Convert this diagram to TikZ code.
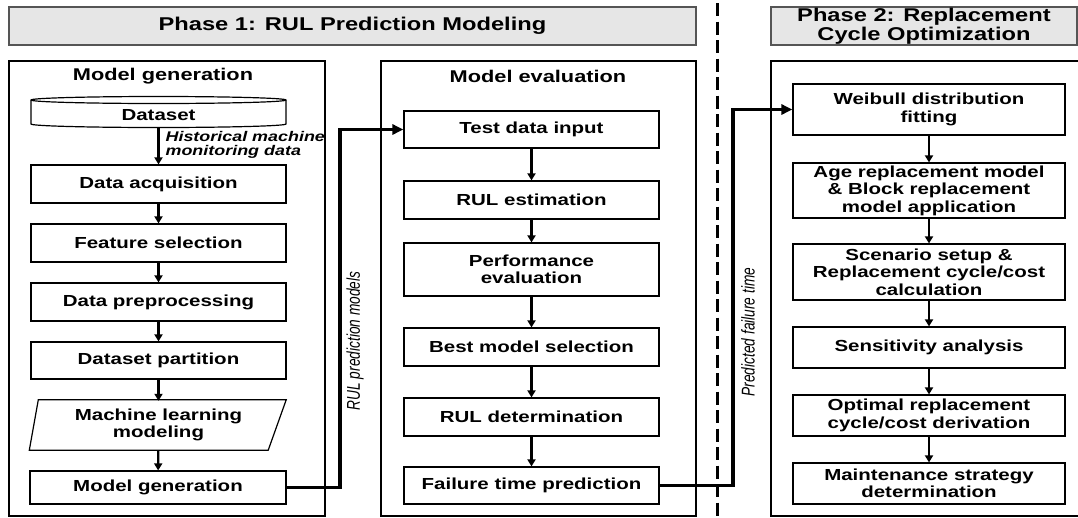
\documentclass[tikz,border=0pt]{standalone}
\usepackage{fontspec}
\setmainfont[FakeStretch=1.28]{Liberation Sans}
\newfontfamily\narrowfont[FakeStretch=0.74]{Liberation Sans}
\usetikzlibrary{arrows.meta,calc}
\definecolor{hdrfill}{HTML}{E6E6E6}
\definecolor{hdrline}{HTML}{555555}
\tikzset{
  stepbox/.style={draw, line width=1.2pt, fill=white, align=center, inner sep=0pt,
    font=\bfseries\fontsize{16}{17.5}\selectfont},
  plainbox/.style={align=center, inner sep=0pt, font=\bfseries\fontsize{16}{17.5}\selectfont},
  panel/.style={draw, line width=1.2pt},
  header/.style={draw=hdrline, line width=1.2pt, fill=hdrfill, align=center, inner sep=0pt,
    font=\bfseries\fontsize{18.5}{19.5}\selectfont},
  ptitle/.style={inner sep=0pt, font=\bfseries\fontsize{17}{18}\selectfont},
  arr/.style={line width=2.2pt, -{Triangle[length=7pt,width=8pt]}},
  bigarr/.style={line width=3.5pt, -{Triangle[length=11pt,width=10pt]}},
  sidelabel/.style={inner sep=0pt, rotate=90, font=\narrowfont\itshape\fontsize{18.5}{19}\selectfont},
  dlabel/.style={inner sep=0pt, align=left, font=\bfseries\itshape\fontsize{14}{14.5}\selectfont}
}
\begin{document}
\begin{tikzpicture}[x=1pt,y=-1pt]
\useasboundingbox (0,0) rectangle (1078,517);
% headers
\node[header, minimum width=687pt, minimum height=38pt] (h1) at (352.5,26) {Phase 1: RUL Prediction Modeling};
\node[header, minimum width=306pt, minimum height=38pt] (h2) at (924,26) {Phase 2: Replacement\\Cycle Optimization};
% dashed separator
\coordinate (dtop) at (717,3);
\coordinate (dbot) at (717,517);
\draw[line width=3pt, dash pattern=on 13pt off 5.5pt] (dtop) -- (dbot);
% panels
\node[panel, minimum width=316pt, minimum height=455pt] (pgen) at (167,288.5) {};
\node[panel, minimum width=315pt, minimum height=455pt] (peval) at (538.5,288.5) {};
\node[panel, minimum width=320pt, minimum height=455pt] (popt) at (931,288.5) {};
\node[ptitle] (tgen) at (163,76) {Model generation};
\node[ptitle] (teval) at (538,76) {Model evaluation};
% model generation column: dataset cylinder
\draw[line width=1.2pt, fill=white]
  (31,100) -- (31,124) arc[start angle=180, end angle=0, x radius=127.5, y radius=3.5]
  -- (286,100) arc[start angle=0, end angle=-180, x radius=127.5, y radius=3.5] -- cycle;
\draw[line width=1.2pt] (31,100) arc[start angle=180, end angle=0, x radius=127.5, y radius=3.5];
\node[plainbox, minimum width=255pt, minimum height=24pt] (ds) at (158.5,115.5) {Dataset};
\node[stepbox, minimum width=255pt, minimum height=38pt] (acq) at (158.5,184) {Data acquisition};
\node[stepbox, minimum width=255pt, minimum height=38pt] (feat) at (158.5,243) {Feature selection};
\node[stepbox, minimum width=255pt, minimum height=38pt] (prep) at (158.5,302) {Data preprocessing};
\node[stepbox, minimum width=255pt, minimum height=37pt] (part) at (158.5,360.5) {Dataset partition};
\node[plainbox, minimum width=238pt, minimum height=50pt] (mlm) at (158.5,425) {Machine learning\\modeling};
\draw[line width=1.2pt] ($(mlm.north west)+(-1,0)$) -- ($(mlm.north east)+(8.5,0)$) -- ($(mlm.south east)+(-9.5,0)$) -- ($(mlm.south west)+(-10,0)$) -- cycle;
\node[stepbox, minimum width=256pt, minimum height=33pt] (gen) at (158,487.5) {Model generation};
\draw[arr] (ds.south) -- node[dlabel, anchor=west, xshift=6pt, yshift=1pt] (hist) {Historical machine\\monitoring data} (acq.north);
\draw[arr] (acq) -- (feat);
\draw[arr] (feat) -- (prep);
\draw[arr] (prep) -- (part);
\draw[arr] (part) -- ($(mlm.north)+(0,1)$);
\draw[arr] (mlm) -- (gen);
% model evaluation column
\node[stepbox, minimum width=255pt, minimum height=37pt] (test) at (531.5,129.5) {Test data input};
\node[stepbox, minimum width=255pt, minimum height=38pt] (rulest) at (531.5,200) {RUL estimation};
\node[stepbox, minimum width=255pt, minimum height=53pt] (perf) at (531.5,269.5) {Performance\\evaluation};
\node[stepbox, minimum width=255pt, minimum height=38pt] (best) at (531.5,347) {Best model selection};
\node[stepbox, minimum width=255pt, minimum height=38pt] (ruldet) at (531.5,417) {RUL determination};
\node[stepbox, minimum width=255pt, minimum height=37pt] (fail) at (531.5,485.5) {Failure time prediction};
\draw[arr] (test) -- (rulest);
\draw[arr] (rulest) -- (perf);
\draw[arr] (perf) -- (best);
\draw[arr] (best) -- (ruldet);
\draw[arr] (ruldet) -- (fail);
% phase 2 column
\node[stepbox, minimum width=272pt, minimum height=51pt] (weib) at (929,109.5) {Weibull distribution\\fitting};
\node[stepbox, minimum width=272pt, minimum height=55pt] (age) at (929,190.5) {Age replacement model\\\& Block replacement\\model application};
\node[stepbox, minimum width=272pt, minimum height=56pt] (scen) at (929,272) {Scenario setup \&\\Replacement cycle/cost\\calculation};
\node[stepbox, minimum width=272pt, minimum height=41pt] (sens) at (929,347.5) {Sensitivity analysis};
\node[stepbox, minimum width=272pt, minimum height=41pt] (opt) at (929,415.5) {Optimal replacement\\cycle/cost derivation};
\node[stepbox, minimum width=272pt, minimum height=41pt] (maint) at (929,483.5) {Maintenance strategy\\determination};
\draw[arr] (weib) -- (age);
\draw[arr] (age) -- (scen);
\draw[arr] (scen) -- (sens);
\draw[arr] (sens) -- (opt);
\draw[arr] (opt) -- (maint);
% long connectors
\draw[bigarr] (gen.east) -| (340,129.5) -- (test.west);
\draw[bigarr] (fail.east) -| (733,109.5) -- (weib.west);
\node[sidelabel] (lab1) at (355,341) {RUL prediction models};
\node[sidelabel] (lab2) at (748,332) {Predicted failure time};
\end{tikzpicture}
\end{document}
